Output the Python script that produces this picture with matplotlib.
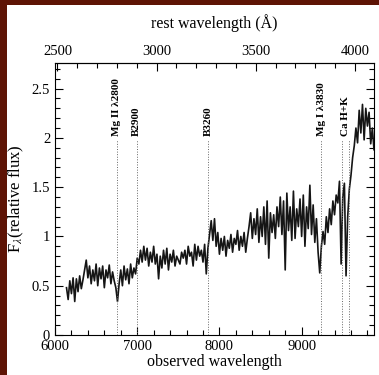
import numpy as np
import matplotlib
matplotlib.use('Agg')
from matplotlib import pyplot as plt
from matplotlib.patches import Rectangle
from matplotlib.ticker import MultipleLocator, FixedLocator, FuncFormatter

# redshift factor (1+z) tying observed to rest wavelength
zfac = 2.412

# observed wavelength grid and flux
wave_start, wave_step = 6140, 20
flux = [
    # 6140 - 6380
    0.48, 0.36, 0.55, 0.42, 0.58, 0.34, 0.57, 0.44, 0.60, 0.47, 0.56, 0.66, 0.76,
    # 6400 - 6740
    0.58, 0.70, 0.52, 0.66, 0.55, 0.72, 0.50, 0.68, 0.57, 0.70, 0.48, 0.66,
    0.58, 0.71, 0.52, 0.64, 0.55, 0.48,
    # 6760 (Mg II)
    0.34,
    # 6780 - 6980
    0.52, 0.66, 0.50, 0.70, 0.56, 0.67, 0.52, 0.72, 0.58, 0.68, 0.62,
    # 7000 - 7860
    0.78, 0.72, 0.86, 0.74, 0.90, 0.76, 0.88, 0.70, 0.84, 0.74, 0.90, 0.72,
    0.82, 0.57, 0.80, 0.68, 0.86, 0.72, 0.88, 0.66, 0.82, 0.74, 0.86, 0.70,
    0.80, 0.76, 0.72, 0.84, 0.78, 0.86, 0.72, 0.90, 0.80, 0.84, 0.70, 0.92,
    0.76, 0.90, 0.80, 0.86, 0.74, 0.92, 0.62, 0.88,
    # 7880 - 8340
    1.02, 1.16, 0.96, 1.18, 0.90, 1.04, 0.82, 0.98, 0.86, 1.00, 0.80, 0.96,
    0.88, 1.02, 0.84, 0.98, 0.92, 1.06, 0.86, 1.00, 0.90, 1.04, 0.84, 0.98,
    # 8360 - 8680
    1.10, 1.24, 0.98, 1.18, 1.02, 1.28, 0.94, 1.20, 1.00, 1.30, 0.92, 1.36,
    0.78, 1.24, 1.04, 1.22, 0.98,
    # 8700 - 8980
    1.30, 1.10, 1.40, 1.02, 1.36, 0.66, 1.44, 1.06, 1.30, 0.96, 1.46, 0.98,
    1.28, 1.10, 1.38,
    # 9000 - 9200
    1.00, 1.42, 0.90, 1.30, 1.08, 1.52, 1.02, 1.32, 0.94, 1.18, 0.84,
    # 9220 - 9240 (Mg I)
    0.63, 0.90,
    # 9260 - 9460
    1.05, 0.92, 1.20, 1.04, 1.28, 1.12, 1.36, 1.22, 1.42, 1.34, 1.56,
    # 9480 - 9580 (Ca H+K)
    0.72, 1.40, 1.54, 0.60, 1.20, 1.48,
    # 9600 - 9880
    1.62, 1.80, 1.92, 2.10, 1.95, 2.28, 2.05, 2.34, 1.98, 2.30, 2.12, 2.26,
    1.94, 2.10, 1.88,
]
wave = wave_start + wave_step * np.arange(len(flux))

# line identifications (rest wavelengths)
line_names = ['Mg II \u03bb2800', 'B2900', 'B3260', 'Mg I \u03bb3830', 'Ca H+K']
line_rest = [[2800], [2900], [3260], [3830], [3934, 3969]]

rest_ticks = [2500, 3000, 3500, 4000]

plt.rcParams['font.family'] = ['Liberation Serif', 'DejaVu Serif']
plt.rcParams['mathtext.fontset'] = 'stix'

fig = plt.figure(figsize=(3.79, 3.75), dpi=100)
fig.patch.set_facecolor('#5e1405')
fig.patches.append(Rectangle((7 / 379, 0), 1 - 7 / 379, 1 - 5 / 375,
                             transform=fig.transFigure, facecolor='white',
                             edgecolor='none', zorder=-10))

ax = fig.add_axes([55 / 379, 40 / 375, 319 / 379, 272 / 375])
ax.set_facecolor('white')

ax.plot(wave, flux, color='#151515', lw=1.2)

for name, rest in zip(line_names, line_rest):
    obs = [r * zfac for r in rest]
    for o in obs:
        ax.plot([o, o], [0, 1.98], color='#666666', lw=0.7, ls=':')
    ax.text(np.mean(obs), 2.02, name, rotation=90, ha='center', va='bottom',
            fontsize=8, fontweight='bold')

ax.set_xlim(6000, 9880)
ax.set_ylim(0, 2.76)

ax.xaxis.set_major_locator(MultipleLocator(1000))
ax.xaxis.set_minor_locator(MultipleLocator(200))
ax.yaxis.set_major_locator(MultipleLocator(0.5))
ax.yaxis.set_minor_locator(MultipleLocator(0.1))
ax.yaxis.set_major_formatter(FuncFormatter(lambda v, p: '%g' % v))
ax.tick_params(which='both', direction='in', top=False, right=True,
               labelsize=10.5, width=0.8)
ax.tick_params(which='major', length=6)
ax.tick_params(which='minor', length=3.5)

top = ax.secondary_xaxis('top', functions=(lambda x: x / zfac,
                                           lambda x: x * zfac))
top.xaxis.set_major_locator(FixedLocator(rest_ticks))
top.xaxis.set_minor_locator(MultipleLocator(100))
top.tick_params(which='both', direction='in', labelsize=10.5, width=0.8)
top.tick_params(which='major', length=6)
top.tick_params(which='minor', length=3.5)
top.set_xlabel('rest wavelength (\u00c5)', fontsize=11.5, labelpad=12)

ax.set_xlabel('observed wavelength', fontsize=11.5, labelpad=1)
ax.set_ylabel('F$_\\lambda$(relative flux)', fontsize=12, labelpad=4)

fig.savefig('out.png', dpi=100, facecolor=fig.get_facecolor())
